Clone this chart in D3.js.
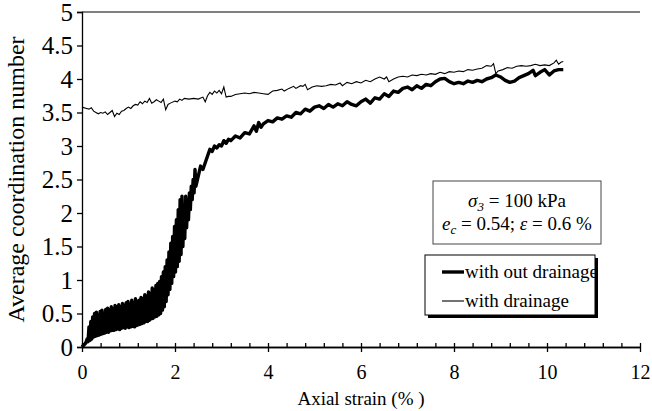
<!DOCTYPE html>
<html>
<head>
<meta charset="utf-8">
<script src="https://cdn.jsdelivr.net/npm/d3@7"></script>
<style>
  body { margin: 0; background: #fff; }
  text { font-family: "Liberation Serif", "Times New Roman", Times, "DejaVu Serif", serif !important; }
</style>
</head>
<body>
<div id="plot"></div>
<script>
// tick labels
const xMajor = [0, 2, 4, 6, 8, 10, 12];
const yTicks = [0, 0.5, 1, 1.5, 2, 2.5, 3, 3.5, 4, 4.5, 5];

// series: [axial strain %, average coordination number]
const withoutDrainage = [
  [0,0],[0.04,0.03],[0.08,0.06],[0.11,0.12],[0.13,0.08],
  [0.15,0.3],[0.17,0.1],[0.19,0.38],[0.21,0.12],[0.23,0.45],[0.25,0.15],[0.27,0.5],[0.29,0.16],
  [0.31,0.52],[0.33,0.17],[0.35,0.48],[0.37,0.18],[0.39,0.53],[0.41,0.19],[0.43,0.55],[0.45,0.2],
  [0.47,0.5],[0.49,0.21],[0.51,0.56],[0.53,0.22],[0.55,0.58],[0.57,0.22],[0.59,0.55],[0.61,0.24],
  [0.63,0.6],[0.65,0.25],[0.67,0.57],[0.69,0.25],[0.71,0.62],[0.73,0.26],[0.75,0.6],[0.77,0.27],
  [0.79,0.63],[0.81,0.26],[0.83,0.6],[0.85,0.28],[0.87,0.65],[0.89,0.29],[0.91,0.62],[0.93,0.28],
  [0.95,0.66],[0.97,0.3],[0.99,0.68],[1.01,0.29],[1.03,0.64],[1.05,0.3],[1.07,0.7],[1.09,0.31],
  [1.11,0.66],[1.13,0.3],[1.15,0.72],[1.17,0.32],[1.19,0.68],[1.21,0.33],[1.23,0.7],[1.25,0.34],
  [1.27,0.74],[1.29,0.35],[1.31,0.72],[1.33,0.36],[1.35,0.78],[1.37,0.38],[1.39,0.76],[1.41,0.38],
  [1.43,0.82],[1.45,0.4],[1.47,0.8],[1.49,0.42],[1.51,0.88],[1.53,0.43],[1.55,0.85],[1.57,0.45],
  [1.59,0.92],[1.61,0.46],[1.63,0.95],[1.65,0.48],[1.67,0.98],[1.69,0.5],[1.71,1.05],[1.73,0.55],
  [1.75,1.12],[1.77,0.6],[1.79,1.2],[1.81,0.68],[1.83,1.3],[1.85,0.78],[1.87,1.42],[1.89,0.86],
  [1.91,1.55],[1.93,0.95],[1.95,1.65],[1.97,1.05],[1.99,1.8],[2.01,1.12],[2.03,1.9],[2.05,1.2],
  [2.07,2.05],[2.09,1.28],[2.11,2.2],[2.13,1.38],[2.15,2.25],[2.17,1.5],[2.19,2.1],[2.21,1.62],
  [2.23,2.25],[2.25,1.78],[2.27,2.2],[2.29,1.9],[2.31,2.3],[2.33,2.05],[2.35,2.4],[2.37,2.2],
  [2.39,2.5],[2.41,2.3],[2.43,2.65],[2.45,2.4],
  [2.5,2.55],[2.55,2.7],[2.6,2.65],[2.65,2.75],[2.7,2.85],[2.75,2.95],[2.8,2.92],[2.85,3.0],
  [2.9,2.97],[2.95,3.02],[3.0,3.0],[3.05,3.08],[3.1,3.04],[3.15,3.1],[3.2,3.08],[3.3,3.15],
  [3.4,3.12],[3.5,3.2],[3.6,3.18],[3.7,3.3],[3.75,3.22],[3.8,3.35],[3.85,3.28],[3.9,3.33],
  [4.0,3.38],[4.1,3.36],[4.2,3.42],[4.3,3.4],[4.4,3.45],[4.5,3.43],[4.6,3.5],[4.7,3.48],
  [4.8,3.55],[4.9,3.52],[5.0,3.58],[5.1,3.6],[5.2,3.56],[5.3,3.62],[5.4,3.58],[5.5,3.63],
  [5.6,3.6],[5.7,3.66],[5.8,3.62],[5.9,3.6],[6.0,3.66],[6.1,3.7],[6.2,3.64],[6.3,3.72],
  [6.4,3.7],[6.5,3.78],[6.6,3.74],[6.7,3.82],[6.8,3.8],[6.9,3.86],[7.0,3.88],[7.1,3.84],
  [7.2,3.9],[7.3,3.86],[7.4,3.92],[7.5,3.9],[7.6,3.96],[7.7,4.0],[7.8,4.01],[7.9,3.96],
  [8.0,3.93],[8.1,3.95],[8.2,3.93],[8.3,3.97],[8.4,3.95],[8.5,3.98],[8.6,3.96],[8.7,4.0],
  [8.8,4.02],[8.9,4.06],[9.0,4.03],[9.1,3.98],[9.2,3.95],[9.3,3.97],[9.4,4.02],[9.5,4.05],
  [9.6,4.08],[9.7,4.13],[9.75,4.05],[9.85,4.1],[9.95,4.14],[10.05,4.06],[10.15,4.12],
  [10.25,4.14],[10.35,4.14]
];

const withDrainage = [
  [0,3.58],[0.1,3.56],[0.15,3.55],[0.2,3.57],[0.25,3.52],[0.3,3.5],[0.35,3.48],[0.4,3.5],
  [0.45,3.49],[0.5,3.51],[0.55,3.47],[0.6,3.5],[0.65,3.53],[0.7,3.44],[0.75,3.49],[0.8,3.47],
  [0.85,3.52],[0.9,3.53],[0.95,3.56],[1.0,3.58],[1.05,3.56],[1.1,3.6],[1.15,3.62],[1.2,3.61],
  [1.25,3.66],[1.3,3.63],[1.35,3.67],[1.4,3.65],[1.45,3.71],[1.5,3.64],[1.55,3.66],[1.6,3.69],
  [1.65,3.67],[1.7,3.65],[1.75,3.7],[1.8,3.54],[1.85,3.62],[1.9,3.64],[2.0,3.67],[2.05,3.66],
  [2.1,3.7],[2.15,3.68],[2.2,3.71],[2.3,3.7],[2.4,3.71],[2.5,3.7],[2.6,3.73],[2.65,3.66],
  [2.7,3.75],[2.75,3.8],[2.8,3.77],[2.85,3.82],[2.9,3.79],[2.95,3.83],[3.0,3.78],[3.05,3.88],
  [3.1,3.73],[3.15,3.74],[3.2,3.74],[3.3,3.77],[3.4,3.78],[3.5,3.79],[3.6,3.78],[3.7,3.8],
  [3.8,3.79],[3.9,3.78],[4.0,3.77],[4.1,3.82],[4.2,3.83],[4.3,3.85],[4.35,3.82],[4.45,3.86],
  [4.55,3.89],[4.6,3.86],[4.7,3.9],[4.75,3.89],[4.8,3.92],[4.85,3.84],[4.95,3.88],[5.05,3.9],
  [5.15,3.89],[5.25,3.9],[5.35,3.92],[5.45,3.91],[5.55,3.94],[5.6,3.9],[5.7,3.95],[5.8,3.93],
  [5.9,3.96],[6.0,3.94],[6.1,3.98],[6.2,3.96],[6.3,4.0],[6.4,4.03],[6.5,4.0],[6.55,4.03],
  [6.6,3.96],[6.7,4.0],[6.8,4.03],[6.9,4.04],[7.0,4.03],[7.1,4.06],[7.2,4.05],[7.3,4.07],
  [7.4,4.06],[7.5,4.08],[7.6,4.07],[7.7,4.1],[7.8,4.08],[7.9,4.11],[8.0,4.1],[8.1,4.12],
  [8.2,4.11],[8.3,4.14],[8.4,4.13],[8.5,4.15],[8.6,4.16],[8.7,4.2],[8.8,4.19],[8.85,4.23],
  [8.9,4.08],[8.95,4.12],[9.05,4.14],[9.15,4.17],[9.25,4.16],[9.35,4.19],[9.45,4.2],[9.55,4.19],
  [9.65,4.2],[9.75,4.22],[9.85,4.2],[9.95,4.21],[10.05,4.2],[10.15,4.24],[10.2,4.28],
  [10.25,4.22],[10.3,4.25],[10.35,4.26]
];

const w = 652;
const h = 411;
const margin = {top: 12, right: 12, bottom: 64, left: 82};
const serif = '"Liberation Serif", "Times New Roman", Times, "DejaVu Serif", serif';

const svg = d3.select("div#plot")
    .append("svg")
    .attr("width", w)
    .attr("height", h)
    .attr("font-family", serif);

const xScale = d3.scaleLinear()
    .domain([0, 12])
    .range([margin.left, w - margin.right]);

const yScale = d3.scaleLinear()
    .domain([0, 5])
    .range([h - margin.bottom, margin.top]);

// top border of plot area
svg.append("line")
    .attr("x1", xScale(0)).attr("x2", xScale(12))
    .attr("y1", yScale(5)).attr("y2", yScale(5))
    .attr("stroke", "#000");

// lines
const line = d3.line()
    .x(d => xScale(d[0]))
    .y(d => yScale(d[1]));

svg.append("path")
    .datum(withDrainage)
    .attr("fill", "none")
    .attr("stroke", "#000")
    .attr("stroke-width", 1.1)
    .attr("d", line);

svg.append("path")
    .datum(withoutDrainage)
    .attr("fill", "none")
    .attr("stroke", "#000")
    .attr("stroke-width", 3.4)
    .attr("stroke-linejoin", "round")
    .attr("d", line);

// axes
const yAxis = d3.axisLeft(yScale)
    .tickValues(yTicks)
    .tickSize(5)
    .tickPadding(4)
    .tickFormat(d => d);

svg.append("g")
    .attr("class", "yAxis")
    .attr("transform", `translate(${margin.left},0)`)
    .call(yAxis);

const xMinor = d3.axisBottom(xScale)
    .tickValues(d3.range(0, 12.01, 0.4))
    .tickSizeInner(-4)
    .tickSizeOuter(0)
    .tickFormat("");

svg.append("g")
    .attr("class", "xMinor")
    .attr("transform", `translate(0,${h - margin.bottom})`)
    .call(xMinor);

const xAxis = d3.axisBottom(xScale)
    .tickValues(xMajor)
    .tickSizeInner(5)
    .tickSizeOuter(0)
    .tickPadding(13);

svg.append("g")
    .attr("class", "xAxis")
    .attr("transform", `translate(0,${h - margin.bottom})`)
    .call(xAxis);

svg.selectAll(".yAxis, .xAxis, .xMinor")
    .attr("font-family", serif);
svg.selectAll(".yAxis, .xAxis, .xMinor").selectAll("path, line")
    .attr("stroke", "#000")
    .attr("stroke-width", 1.3);
svg.selectAll(".yAxis text")
    .attr("font-size", 25)
    .attr("fill", "#000");
svg.selectAll(".xAxis text")
    .attr("font-size", 20)
    .attr("fill", "#000");

// axis titles
svg.append("text")
    .attr("x", (xScale(0) + xScale(12)) / 2)
    .attr("y", 405)
    .attr("text-anchor", "middle")
    .attr("font-size", 19)
    .text("Axial strain (% )");

svg.append("text")
    .attr("transform", `translate(24,${(yScale(0) + yScale(5)) / 2}) rotate(-90)`)
    .attr("text-anchor", "middle")
    .attr("font-size", 24)
    .text("Average coordination number");

// condition box
const note = svg.append("g");
note.append("rect")
    .attr("x", 433).attr("y", 181)
    .attr("width", 168).attr("height", 63)
    .attr("fill", "#fff")
    .attr("stroke", "#444");

const n1 = note.append("text")
    .attr("x", 517).attr("y", 207)
    .attr("text-anchor", "middle")
    .attr("font-size", 19);
n1.append("tspan").attr("font-style", "italic").text("σ");
n1.append("tspan").attr("font-style", "italic").attr("font-size", 13).attr("dy", 4).text("3");
n1.append("tspan").attr("dy", -4).text(" = 100 kPa");

const n2 = note.append("text")
    .attr("x", 517).attr("y", 230)
    .attr("text-anchor", "middle")
    .attr("font-size", 19);
n2.append("tspan").attr("font-style", "italic").text("e");
n2.append("tspan").attr("font-style", "italic").attr("font-size", 13).attr("dy", 4).text("c");
n2.append("tspan").attr("dy", -4).text(" = 0.54; ");
n2.append("tspan").attr("font-style", "italic").text("ε");
n2.append("tspan").text(" = 0.6 %");

// legend with drop shadow
const legend = svg.append("g");
legend.append("rect")
    .attr("x", 428).attr("y", 258)
    .attr("width", 170).attr("height", 60)
    .attr("fill", "#000");
legend.append("rect")
    .attr("x", 425).attr("y", 255)
    .attr("width", 170).attr("height", 60)
    .attr("fill", "#fff")
    .attr("stroke", "#000");

const legendItems = [
  {label: "with out drainage", width: 3.4},
  {label: "with drainage", width: 1.1}
];

legendItems.forEach((d, i) => {
  const yy = 272 + i * 29;
  legend.append("line")
      .attr("x1", 442).attr("x2", 464)
      .attr("y1", yy).attr("y2", yy)
      .attr("stroke", "#000")
      .attr("stroke-width", d.width);
  legend.append("text")
      .attr("x", 465).attr("y", yy + 6)
      .attr("font-size", 19)
      .text(d.label);
});
</script>
</body>
</html>
